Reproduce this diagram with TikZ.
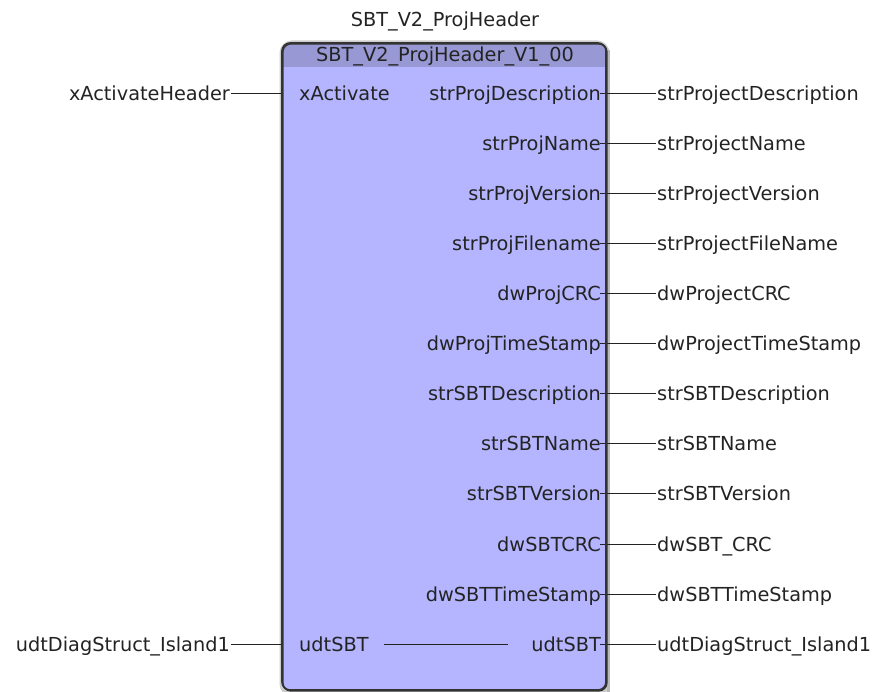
\documentclass[tikz,border=0pt]{standalone}
\usepackage{fontspec}
\setmainfont{DejaVu Sans}
\definecolor{body}{RGB}{180,180,255}
\definecolor{hdr}{RGB}{152,152,212}
\definecolor{ink}{RGB}{35,35,35}
\definecolor{halo}{RGB}{205,205,205}
\begin{document}
\begin{tikzpicture}[x=1pt,y=-1pt,
  lbl/.style={inner sep=1pt, text height=14pt, text depth=0pt, text=ink,
     font=\fontsize{19.3}{22}\selectfont},
  wire/.style={draw=ink, line width=1pt},
  fbbox/.style={draw=black!80, line width=1.6pt, rounded corners=8pt}]
\useasboundingbox (0,0) rectangle (877,692);
% shadow / halo
\draw[halo, line width=5pt, rounded corners=10pt] (282,43) rectangle (607,694);
\draw[gray!55, line width=3pt] (608,50) -- (608,694);
% body
\fill[body, rounded corners=8pt] (282,43) rectangle (606,690);
\begin{scope}
  \clip[rounded corners=8pt] (282,43) rectangle (606,690);
  \fill[hdr] (282,43) rectangle (606,67);
\end{scope}
\node[fbbox, minimum width=324pt, minimum height=647pt, anchor=north west, inner sep=0pt] (fb) at (282,43) {};
% titles
\node[lbl] (inst) at (445,20) {SBT\_V2\_ProjHeader};
\node[lbl] (type) at (445,55) {SBT\_V2\_ProjHeader\_V1\_00};
% inputs
\node[lbl, anchor=west] (iA) at (298,93.5) {xActivate};
\node[lbl, anchor=east] (xA) at (231,93.5) {xActivateHeader};
\draw[wire] (xA.east) -- (xA.east -| fb.west);
\node[lbl, anchor=west] (iU) at (298,644.5) {udtSBT};
\node[lbl, anchor=east] (xU) at (231,644.5) {udtDiagStruct\_Island1};
\draw[wire] (xU.east) -- (xU.east -| fb.west);
% outputs
\foreach \i/\r/\a/\b in {0/93/strProjDescription/strProjectDescription,
  1/143/strProjName/strProjectName,
  2/193/strProjVersion/strProjectVersion,
  3/243/strProjFilename/strProjectFileName,
  4/293/dwProjCRC/dwProjectCRC,
  5/343/dwProjTimeStamp/dwProjectTimeStamp,
  6/393/strSBTDescription/strSBTDescription,
  7/443/strSBTName/strSBTName,
  8/493/strSBTVersion/strSBTVersion,
  9/544/dwSBTCRC/dwSBT\_CRC,
  10/594/dwSBTTimeStamp/dwSBTTimeStamp,
  11/644/udtSBT/udtDiagStruct\_Island1}{
  \node[lbl, anchor=east] (o\i) at (602,\r+0.5) {\a};
  \node[lbl, anchor=west] (e\i) at (656,\r+0.5) {\b};
  \draw[wire] ([xshift=-2]o\i.east) -- (e\i.west);
}
\draw[wire] ([xshift=14]iU.east) -- ([xshift=-22]o11.west);
% border on top
\draw[fbbox] (282,43) rectangle (606,690);
\end{tikzpicture}
\end{document}
